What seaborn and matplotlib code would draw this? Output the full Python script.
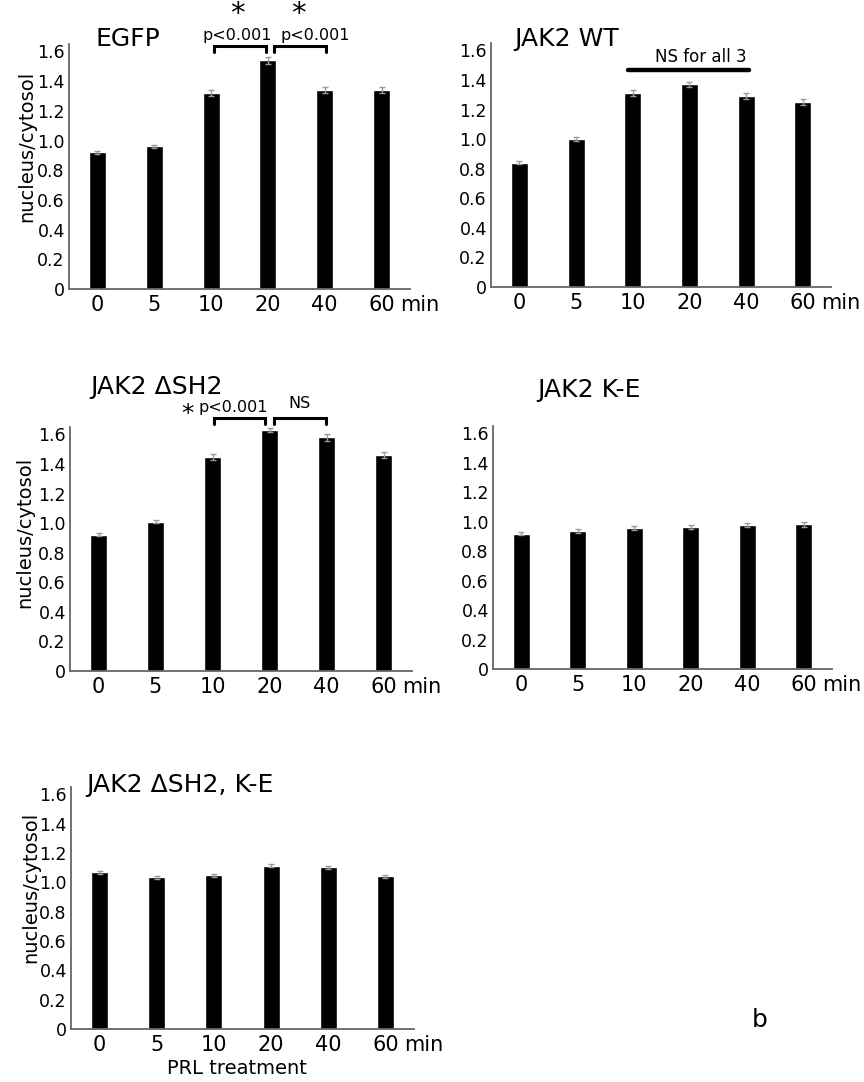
import numpy as np
import pandas as pd
import matplotlib
matplotlib.use('Agg')
import matplotlib.pyplot as plt
import seaborn as sns

# ---- data ----
TIMES = ['0', '5', '10', '20', '40', '60']

egfp = [0.92, 0.96, 1.32, 1.54, 1.34, 1.34]
egfp_err = [0.010, 0.012, 0.020, 0.022, 0.022, 0.022]

wt = [0.84, 1.00, 1.31, 1.37, 1.29, 1.25]
wt_err = [0.010, 0.015, 0.020, 0.018, 0.020, 0.018]

dsh2 = [0.92, 1.01, 1.45, 1.63, 1.58, 1.46]
dsh2_err = [0.010, 0.010, 0.020, 0.012, 0.022, 0.020]

ke = [0.92, 0.936, 0.959, 0.966, 0.98, 0.982]
ke_err = [0.012, 0.012, 0.015, 0.014, 0.014, 0.016]

dsh2_ke = [1.068, 1.036, 1.048, 1.114, 1.102, 1.041]
dsh2_ke_err = [0.012, 0.010, 0.010, 0.010, 0.012, 0.010]

YTICKS = [0, 0.2, 0.4, 0.6, 0.8, 1.0, 1.2, 1.4, 1.6]
YTICKLABELS = ['0', '0.2', '0.4', '0.6', '0.8', '1.0', '1.2', '1.4', '1.6']

sns.set_style('white')
plt.rcParams['font.family'] = ['DejaVu Sans']
plt.rcParams['text.color'] = 'black'
plt.rcParams['xtick.color'] = 'black'
plt.rcParams['ytick.color'] = 'black'

W, H = 864, 1082
fig = plt.figure(figsize=(W / 100, H / 100), dpi=100)


def px_axes(left, right, top, bottom):
    return fig.add_axes([left / W, 1 - bottom / H, (right - left) / W, (bottom - top) / H])


def panel(ax, vals, errs):
    df = pd.DataFrame({'time': TIMES, 'ratio': vals})
    sns.barplot(data=df, x='time', y='ratio', color='black', width=0.3,
                saturation=1, errorbar=None, ax=ax)
    ax.errorbar(np.arange(len(vals)), vals, yerr=errs, fmt='none',
                ecolor='#9a9a9a', elinewidth=1, capsize=2, capthick=1, zorder=5)
    ax.set_xlim(-0.5, 5.5)
    ax.set_ylim(0, 1.65)
    ax.set_yticks(YTICKS)
    ax.set_yticklabels(YTICKLABELS)
    ax.set_xlabel('')
    ax.set_ylabel('')
    for s in ('top', 'right'):
        ax.spines[s].set_visible(False)
    for s in ('left', 'bottom'):
        ax.spines[s].set_color('#666666')
        ax.spines[s].set_linewidth(1.3)
    ax.tick_params(axis='y', length=0, pad=3, labelsize=12.5)
    ax.tick_params(axis='x', length=0, pad=4, labelsize=15)
    ax.annotate('min', xy=(5.33, 0), xycoords=('data', 'axes fraction'),
                xytext=(0, -4), textcoords='offset points',
                ha='left', va='top', fontsize=15)


def bracket(ax, x0, x1, ytop, ybot, lw=2.2):
    ax.plot([x0, x0, x1, x1], [ybot, ytop, ytop, ybot], color='black',
            lw=lw, clip_on=False, solid_joinstyle='miter')


ax1 = px_axes(69, 410, 44, 289)
panel(ax1, egfp, egfp_err)
ax2 = px_axes(491, 831, 43, 287)
panel(ax2, wt, wt_err)
ax3 = px_axes(70, 412, 427, 671)
panel(ax3, dsh2, dsh2_err)
ax4 = px_axes(493, 832, 426, 669)
panel(ax4, ke, ke_err)
ax5 = px_axes(71, 414, 787, 1029)
panel(ax5, dsh2_ke, dsh2_ke_err)

# ---- panel titles ----
fig.text(96 / W, 1 - 39 / H, 'EGFP', fontsize=18, va='center', ha='left')
fig.text(514 / W, 1 - 39 / H, 'JAK2 WT', fontsize=18, va='center', ha='left')
fig.text(90 / W, 1 - 387 / H, 'JAK2 \u0394SH2', fontsize=18, va='center', ha='left')
fig.text(537 / W, 1 - 390 / H, 'JAK2 K-E', fontsize=18, va='center', ha='left')
fig.text(86 / W, 1 - 785 / H, 'JAK2 \u0394SH2, K-E', fontsize=18, va='center', ha='left')

# ---- y labels ----
fig.text(27 / W, 1 - 146 / H, 'nucleus/cytosol', rotation=90, fontsize=14,
         ha='center', va='center')
fig.text(25 / W, 1 - 532 / H, 'nucleus/cytosol', rotation=90, fontsize=14,
         ha='center', va='center')
fig.text(31 / W, 1 - 887 / H, 'nucleus/cytosol', rotation=90, fontsize=14,
         ha='center', va='center')

fig.text(237 / W, 1 - 1068 / H, 'PRL treatment', fontsize=14, ha='center', va='center')
fig.text(760 / W, 1 - 1020 / H, 'b', fontsize=18, ha='center', va='center')

# ---- significance marks ----
bracket(ax1, 2.05, 2.97, 1.637, 1.596)
bracket(ax1, 3.11, 4.02, 1.637, 1.596)
ax1.text(2.46, 1.71, 'p<0.001', fontsize=11.5, ha='center', va='center', clip_on=False)
ax1.text(3.83, 1.71, 'p<0.001', fontsize=11.5, ha='center', va='center', clip_on=False)
ax1.text(2.47, 1.85, '*', fontsize=21, ha='center', va='center', clip_on=False)
ax1.text(3.53, 1.85, '*', fontsize=21, ha='center', va='center', clip_on=False)

ax2.plot([1.92, 4.05], [1.467, 1.467], color='black', lw=3.2, clip_on=False)
ax2.text(3.21, 1.555, 'NS for all 3', fontsize=12, ha='center', va='center', clip_on=False)

bracket(ax3, 2.03, 2.92, 1.711, 1.670)
bracket(ax3, 3.08, 3.99, 1.711, 1.670)
ax3.text(1.57, 1.74, '*', fontsize=18, ha='center', va='center', clip_on=False)
ax3.text(2.36, 1.785, 'p<0.001', fontsize=11.5, ha='center', va='center', clip_on=False)
ax3.text(3.53, 1.806, 'NS', fontsize=11.5, ha='center', va='center', clip_on=False)

fig.savefig('out.png', dpi=100)
